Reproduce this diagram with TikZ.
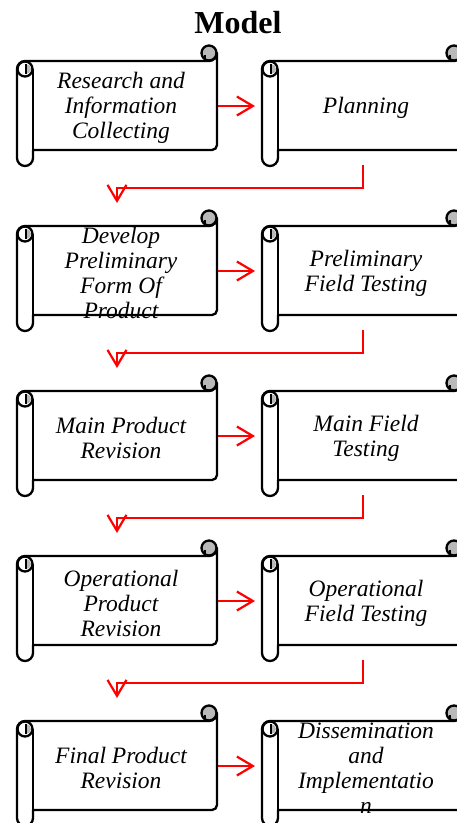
\documentclass[tikz,border=0pt]{standalone}
\usepackage{fontspec}
\setmainfont{Liberation Serif}
\usetikzlibrary{arrows.meta}

\tikzset{
  scrollline/.style={line width=2.3pt, line join=round},
  steptext/.style={font=\fontsize{23.5}{25}\selectfont\itshape, align=center, inner sep=0pt},
  flow/.style={red, line width=2.2pt, -{Straight Barb[length=16pt,width=19pt]}},
}

% scroll with top-left corner at (#1,#2), text node #3
\newcommand{\scrollbox}[4]{%
  \begin{scope}[shift={(#1,#2)}]
    \draw[scrollline, fill=white] (0,-24) arc[start angle=180,end angle=90,radius=8] -- (192,-16)
      arc[start angle=-90,end angle=0,radius=8] -- (200,-100) arc[start angle=0,end angle=-90,radius=5]
      -- (16,-105) -- (16,-113) arc[start angle=0,end angle=-180,radius=8] -- cycle;
    % top curl
    \draw[scrollline, fill=gray!55] (192,-8) circle[radius=7.5];
    \draw[line width=1.6pt] (188,-16) -- (188,-10);
    % left roll
    \draw[scrollline] (16,-105) -- (16,-24);
    \draw[scrollline] (8,-24) circle[radius=7.5];
    \fill[gray!55] (9,-19) arc[start angle=90,end angle=-90,radius=5] -- cycle;
    \draw[line width=1.6pt] (9,-19) -- (9,-29);
    \node[steptext] (#3) at (104,-63) {#4};
    \coordinate (#3-e) at (201,-61);
    \coordinate (#3-w) at (-7,-61);
    \coordinate (#3-s) at (101,-120);
    \coordinate (#3-n) at (100,7);
  \end{scope}}

\begin{document}
\begin{tikzpicture}[x=1pt,y=1pt]
\useasboundingbox (0,0) rectangle (457,-823);
\clip (0,0) rectangle (457,-823);

\node[font=\fontsize{32}{36}\selectfont\bfseries, anchor=base] (title) at (238,-33) {Model};

\scrollbox{17}{-45}{research}{Research and\\Information\\Collecting}
\scrollbox{262}{-45}{planning}{Planning}
\scrollbox{17}{-210}{develop}{Develop\\Preliminary\\Form Of\\Product}
\scrollbox{262}{-210}{prelimtest}{Preliminary\\Field Testing}
\scrollbox{17}{-375}{mainrev}{Main Product\\Revision}
\scrollbox{262}{-375}{maintest}{Main Field\\Testing}
\scrollbox{17}{-540}{oprev}{Operational\\Product\\Revision}
\scrollbox{262}{-540}{optest}{Operational\\Field Testing}
\scrollbox{17}{-705}{finalrev}{Final Product\\Revision}
\scrollbox{262}{-705}{dissem}{Dissemination\\and\\Implementatio\\n}

% across each row
\draw[flow] (research-e) -- (planning-w);
\draw[flow] (develop-e) -- (prelimtest-w);
\draw[flow] (mainrev-e) -- (maintest-w);
\draw[flow] (oprev-e) -- (optest-w);
\draw[flow] (finalrev-e) -- (dissem-w);

% down to the next row
\draw[flow] (planning-s) -- ++(0,-23) -| (develop-n);
\draw[flow] (prelimtest-s) -- ++(0,-23) -| (mainrev-n);
\draw[flow] (maintest-s) -- ++(0,-23) -| (oprev-n);
\draw[flow] (optest-s) -- ++(0,-23) -| (finalrev-n);
\end{tikzpicture}
\end{document}
